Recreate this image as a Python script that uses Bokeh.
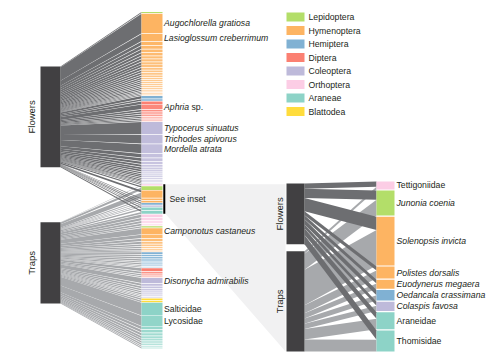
import numpy as np
from bokeh.plotting import figure
from bokeh.models import Range1d, ColumnDataSource
from bokeh.core.properties import value
from bokeh.embed import file_html
from bokeh.resources import INLINE

# ---------------- data ----------------
legend_orders = ["Lepidoptera", "Hymenoptera", "Hemiptera", "Diptera",
                 "Coleoptera", "Orthoptera", "Araneae", "Blattodea"]
legend_colors = ["#b3de69", "#fdb462", "#80b1d3", "#fb8072",
                 "#bebada", "#fccde5", "#8dd3c7", "#ffdc3c"]

# species found only on flowers
flower_only_order = (["Lepidoptera"] + ["Hymenoptera"] * 24 + ["Hemiptera"] * 2
                     + ["Diptera"] * 8 + ["Coleoptera"] * 16)
flower_only_count = [5,
                     100, 36, 17, 15, 14, 13, 12, 12, 11, 10, 10, 9, 9, 8, 8, 7, 7, 6, 6, 6, 5, 5, 4, 4,
                     13, 8,
                     12, 22, 10, 8, 7, 6, 5, 5,
                     62, 45, 46, 18, 14, 12, 10, 9, 8, 7, 6, 6, 5, 5, 4, 4]
flower_only_name = ([""] + ["Augochlorella gratiosa", "Lasioglossum creberrimum"] + [""] * 22
                    + [""] * 2 + ["", "Aphria sp."] + [""] * 6
                    + ["Typocerus sinuatus", "Trichodes apivorus", "Mordella atrata"] + [""] * 13)

# species found on both flowers and in traps (inset)
shared_name = ["Tettigoniidae", "Junonia coenia", "Solenopsis invicta", "Polistes dorsalis",
               "Euodynerus megaera", "Oedancala crassimana", "Colaspis favosa",
               "Araneidae", "Thomisidae"]
shared_order = ["Orthoptera", "Lepidoptera", "Hymenoptera", "Hymenoptera", "Hymenoptera",
                "Hemiptera", "Coleoptera", "Araneae", "Araneae"]
shared_flowers = [4, 7, 10, 3, 3, 4, 3, 5, 7]
shared_traps = [2, 12, 27, 6, 4, 4, 4, 8, 9]

# species found only in traps
trap_only_order = (["Orthoptera"] * 4 + ["Lepidoptera"] + ["Hymenoptera"] * 8 + ["Hemiptera"] * 8
                   + ["Diptera"] * 4 + ["Coleoptera"] * 8 + ["Blattodea"] * 2 + ["Araneae"] * 11)
trap_only_count = [14, 12, 10, 9,
                   7,
                   30, 16, 12, 10, 8, 7, 6, 5,
                   9, 8, 8, 7, 6, 6, 5, 4,
                   14, 9, 7, 5,
                   26, 10, 9, 8, 7, 6, 5, 5,
                   8, 7,
                   64, 50, 14, 13, 11, 10, 9, 8, 7, 6, 5]
trap_only_name = ([""] * 5 + ["Camponotus castaneus"] + [""] * 7 + [""] * 8 + [""] * 4
                  + ["Disonycha admirabilis"] + [""] * 7 + [""] * 2
                  + ["Salticidae", "Lycosidae"] + [""] * 9)

# ---------------- styles ----------------
FONT = value("Liberation Sans")
TXT = "#231f20"
BAR_COL = "#414042"
FLOW_LINK = "#6d6e71"
TRAP_LINK = "#a7a9ac"
color_of = dict(zip(legend_orders, legend_colors))


def tint_alphas(order_list):
    out = []
    i, n = 0, len(order_list)
    while i < n:
        j = i
        while j < n and order_list[j] == order_list[i]:
            j += 1
        m = j - i
        for r in range(m):
            out.append(1.0 if m < 3 else 1.0 - 0.45 * r / (m - 1))
        i = j
    return out


def web(F, T, cx0, cy0, cy1, gap, bx1, by0, by1, bgap):
    tot = [f + t for f, t in zip(F, T)]
    n = len(tot)
    s = (cy1 - cy0 - gap * (n - 1)) / sum(tot)
    tops, y = [], cy0
    for t in tot:
        tops.append(y)
        y += t * s + gap
    Ft, Tt = sum(F), sum(T)
    b = (by1 - by0 - bgap) / (Ft + Tt)
    fbar = (by0, by0 + Ft * b)
    tbar = (by0 + Ft * b + bgap, by1)
    fx, fy, tx, ty = [], [], [], []
    yb = fbar[0]
    for i in range(n):
        if F[i] > 0:
            fx.append([bx1, cx0, cx0, bx1])
            fy.append([yb, tops[i], tops[i] + F[i] * s, yb + F[i] * b])
            yb += F[i] * b
    yb = tbar[0]
    for i in range(n):
        if T[i] > 0:
            y0 = tops[i] + F[i] * s
            tx.append([bx1, cx0, cx0, bx1])
            ty.append([yb, y0, y0 + T[i] * s, yb + T[i] * b])
            yb += T[i] * b
    heights = [t * s for t in tot]
    return dict(tops=tops, heights=heights, fbar=fbar, tbar=tbar,
                fx=fx, fy=fy, tx=tx, ty=ty)


p = figure(width=490, height=355, x_range=Range1d(0, 490), y_range=Range1d(355, 0),
           output_backend="svg", toolbar_location=None, min_border=0,
           x_axis_type=None, y_axis_type=None)
p.grid.visible = False
p.outline_line_color = None

# ---------------- main web ----------------
nf, ns, nt = len(flower_only_count), len(shared_flowers), len(trap_only_count)
m_names = flower_only_name + [""] * ns + trap_only_name
m_orders = flower_only_order + shared_order + trap_only_order
m_F = flower_only_count + shared_flowers + [0] * nt
m_T = [0] * nf + shared_traps + trap_only_count
m_alpha = tint_alphas(flower_only_order) + [1.0] * ns + tint_alphas(trap_only_order)

CX0, CX1 = 141, 162
BX0, BX1 = 40, 60
M = web(m_F, m_T, CX0, 11.5, 348, 0.7, BX1, 66, 303, 55)

# inset geometry
IBX0, IBX1 = 286, 304
ICX0, ICX1 = 376, 394
I = web(shared_flowers, shared_traps, ICX0, 181, 351, 1.2, IBX1, 183, 351, 7)

# bracket extent (shared block in the main column)
br_top = M["tops"][nf]
br_bot = M["tops"][nf + ns - 1] + M["heights"][nf + ns - 1]

# inset background wedge
p.patch([CX1 + 3, IBX0 - 1, IBX0 - 1, CX1 + 3], [br_top, br_top, I["tbar"][1], br_bot],
        fill_color="#f1f1f2", line_color=None)

# links
p.patches(M["tx"], M["ty"], fill_color=TRAP_LINK, line_color=None)
p.patches(M["fx"], M["fy"], fill_color=FLOW_LINK, line_color=None)
p.patches(I["tx"], I["ty"], fill_color=TRAP_LINK, line_color=None)
p.patches(I["fx"], I["fy"], fill_color=FLOW_LINK, line_color=None)

# bars
for G, x0, x1 in ((M, BX0, BX1), (I, IBX0, IBX1)):
    p.quad(left=[x0, x0], right=[x1, x1], top=[G["fbar"][0], G["tbar"][0]],
           bottom=[G["fbar"][1], G["tbar"][1]], fill_color=BAR_COL, line_color=None)

# species segments
src = ColumnDataSource(dict(
    left=[CX0] * len(m_F), right=[CX1] * len(m_F),
    top=M["tops"], bottom=[t + h for t, h in zip(M["tops"], M["heights"])],
    color=[color_of[o] for o in m_orders], alpha=m_alpha))
p.quad(left="left", right="right", top="top", bottom="bottom", source=src,
       fill_color="color", fill_alpha="alpha", line_color=None)
isrc = ColumnDataSource(dict(
    left=[ICX0] * ns, right=[ICX1] * ns,
    top=I["tops"], bottom=[t + h for t, h in zip(I["tops"], I["heights"])],
    color=[color_of[o] for o in shared_order]))
p.quad(left="left", right="right", top="top", bottom="bottom", source=isrc,
       fill_color="color", line_color=None)

# labels
FS = value("8.7px")


def add_label(x, y, name):
    if name.endswith(" sp."):
        genus = name[:-4]
        p.text([x], [y], text=[genus], text_font=FONT, text_font_size=FS,
               text_font_style="italic", text_baseline="middle", text_color=TXT)
        p.text([x + 27.5], [y], text=["sp."], text_font=FONT, text_font_size=FS,
               text_baseline="middle", text_color=TXT)
    else:
        p.text([x], [y], text=[name], text_font=FONT, text_font_size=FS,
               text_font_style="normal" if name.endswith("idae") else "italic",
               text_baseline="middle", text_color=TXT)


for i, nm in enumerate(m_names):
    if nm:
        add_label(CX1 + 1.5, M["tops"][i] + M["heights"][i] / 2, nm)
for i, nm in enumerate(shared_name):
    add_label(ICX1 + 2, I["tops"][i] + I["heights"][i] / 2, nm)

# bracket + "See inset"
p.segment(x0=[CX1 + 1.8], y0=[br_top], x1=[CX1 + 1.8], y1=[br_bot], line_color="black", line_width=2)
p.text([CX1 + 7], [(br_top + br_bot) / 2], text=["See inset"], text_font=FONT, text_font_size=FS,
       text_baseline="middle", text_color=TXT)

# rotated level labels
for G, x in ((M, BX0 - 9), (I, IBX0 - 7)):
    p.text([x, x], [sum(G["fbar"]) / 2, sum(G["tbar"]) / 2], text=["Flowers", "Traps"],
           angle=np.pi / 2, text_font=FONT, text_font_size=value("9.5px"),
           text_align="center", text_baseline="middle", text_color=TXT)

# legend
lsrc = ColumnDataSource(dict(
    left=[286] * 8, right=[304] * 8,
    top=[12 + 13.5 * i for i in range(8)], bottom=[21 + 13.5 * i for i in range(8)],
    color=legend_colors, label=legend_orders, ty=[16.5 + 13.5 * i for i in range(8)],
    tx=[308] * 8))
p.quad(left="left", right="right", top="top", bottom="bottom", source=lsrc,
       fill_color="color", line_color=None)
p.text(x="tx", y="ty", text="label", source=lsrc, text_font=FONT, text_font_size=FS,
       text_baseline="middle", text_color=TXT)

open("out.html", "w").write(file_html(p, INLINE))
